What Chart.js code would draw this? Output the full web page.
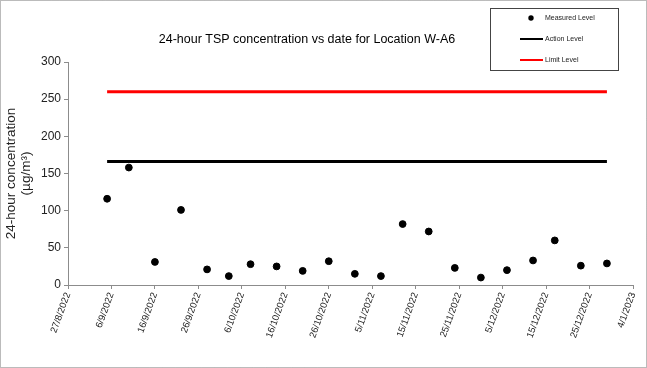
<!DOCTYPE html>
<html>
<head>
<meta charset="utf-8">
<script src="https://cdn.jsdelivr.net/npm/chart.js@4.4.1/dist/chart.umd.min.js"></script>
<style>
  html, body { margin: 0; padding: 0; background: #fff; }
  canvas { display: block; }
</style>
</head>
<body>
<canvas id="grafico" width="647" height="368"></canvas>
<script>
// Measurement dates (d/m/yyyy) and 24-hour TSP values
const measureDates = [
  "5/9/2022", "10/9/2022", "16/9/2022", "22/9/2022", "28/9/2022", "3/10/2022",
  "8/10/2022", "14/10/2022", "20/10/2022", "26/10/2022", "1/11/2022", "7/11/2022",
  "12/11/2022", "18/11/2022", "24/11/2022", "30/11/2022", "6/12/2022", "12/12/2022",
  "17/12/2022", "23/12/2022", "29/12/2022"
];
const measuredLevel = [116, 158, 31, 101, 21, 12, 28, 25, 19, 32, 15, 12, 82, 72, 23, 10, 20, 33, 60, 26, 29];
const actionLevel = 166;
const limitLevel = 260;

// x axis tick labels, one every 10 days from 27/8/2022
const tickLabels = [
  "27/8/2022", "6/9/2022", "16/9/2022", "26/9/2022", "6/10/2022", "16/10/2022", "26/10/2022",
  "5/11/2022", "15/11/2022", "25/11/2022", "5/12/2022", "15/12/2022", "25/12/2022", "4/1/2023"
];
const yTicks = [0, 50, 100, 150, 200, 250, 300];
const tituloGrafico = "24-hour TSP concentration vs date for Location W-A6";

// days since the first tick label
const dia = (s) => {
  const [d, m, y] = s.split("/").map(Number);
  const [d0, m0, y0] = tickLabels[0].split("/").map(Number);
  return Math.round((Date.UTC(y, m - 1, d) - Date.UTC(y0, m0 - 1, d0)) / 86400000);
};

const pontos = measureDates.map((s, i) => ({ x: dia(s), y: measuredLevel[i] }));
const inicio = dia(measureDates[0]);
const fim = dia(measureDates[measureDates.length - 1]);

const fonte = "'Liberation Sans', Arial, sans-serif";

// title, legend box in the upper right, and the outer dotted frame
const legendaPlugin = {
  id: "legenda",
  afterDraw(chart) {
    const ctx = chart.ctx;
    const ds = chart.data.datasets;
    ctx.save();
    ctx.setLineDash([1, 1]);
    ctx.strokeStyle = "#777";
    ctx.lineWidth = 1;
    ctx.strokeRect(0.5, 0.5, 646, 367);
    ctx.setLineDash([]);

    ctx.font = "12.5px " + fonte;
    ctx.fillStyle = "#000";
    ctx.textAlign = "center";
    ctx.textBaseline = "middle";
    ctx.fillText(tituloGrafico, 307, 40);

    ctx.strokeStyle = "#444";
    ctx.strokeRect(490.5, 8.5, 128, 62);

    ctx.font = "7px " + fonte;
    ctx.textAlign = "left";
    const linhas = [18, 39, 60];
    ds.forEach((d, i) => {
      const y = linhas[i];
      if (d.showLine) {
        ctx.strokeStyle = d.borderColor;
        ctx.lineWidth = 2;
        ctx.beginPath();
        ctx.moveTo(520, y);
        ctx.lineTo(543, y);
        ctx.stroke();
      } else {
        ctx.fillStyle = d.backgroundColor;
        ctx.beginPath();
        ctx.arc(531, y, 2.7, 0, Math.PI * 2);
        ctx.fill();
      }
      ctx.fillStyle = "#222";
      ctx.fillText(d.label, 545, y);
    });
    ctx.restore();
  }
};

new Chart(document.getElementById("grafico"), {
  type: "scatter",
  data: {
    datasets: [
      {
        label: "Measured Level",
        data: pontos,
        backgroundColor: "#000",
        borderColor: "#000",
        pointRadius: 3.4,
        pointHoverRadius: 3.4
      },
      {
        label: "Action Level",
        data: [{ x: inicio, y: actionLevel }, { x: fim, y: actionLevel }],
        showLine: true,
        borderColor: "#000",
        borderWidth: 3,
        pointRadius: 0
      },
      {
        label: "Limit Level",
        data: [{ x: inicio, y: limitLevel }, { x: fim, y: limitLevel }],
        showLine: true,
        borderColor: "#ff0000",
        borderWidth: 3,
        pointRadius: 0
      }
    ]
  },
  options: {
    responsive: false,
    animation: false,
    layout: { padding: { left: 0, right: 14, top: 62, bottom: 0 } },
    plugins: {
      legend: { display: false },
      tooltip: { enabled: false },
      title: { display: false }
    },
    scales: {
      x: {
        type: "linear",
        min: 0,
        max: (tickLabels.length - 1) * 10,
        afterBuildTicks: (s) => { s.ticks = tickLabels.map((_, i) => ({ value: i * 10 })); },
        afterFit: (s) => { s.height = 83; },
        ticks: {
          autoSkip: false,
          minRotation: 70,
          maxRotation: 70,
          padding: 2,
          color: "#222",
          font: { family: fonte, size: 9.5 },
          callback: (v) => tickLabels[Math.round(v / 10)]
        },
        grid: { drawOnChartArea: false, color: "#8c8c8c", tickLength: 4 },
        border: { color: "#8c8c8c", width: 1 }
      },
      y: {
        min: yTicks[0],
        max: yTicks[yTicks.length - 1],
        afterBuildTicks: (s) => { s.ticks = yTicks.map((v) => ({ value: v })); },
        afterFit: (s) => { s.width = 68; },
        ticks: {
          padding: 3,
          color: "#222",
          font: { family: fonte, size: 12 }
        },
        grid: { drawOnChartArea: false, color: "#8c8c8c", tickLength: 4 },
        border: { color: "#8c8c8c", width: 1 },
        title: {
          display: true,
          text: ["24-hour concentration", "(\u00b5g/m\u00b3)"],
          color: "#222",
          font: { family: fonte, size: 13.5, lineHeight: 1.1 },
          padding: { top: 4, bottom: 0 }
        }
      }
    }
  },
  plugins: [legendaPlugin]
});
</script>
</body>
</html>
